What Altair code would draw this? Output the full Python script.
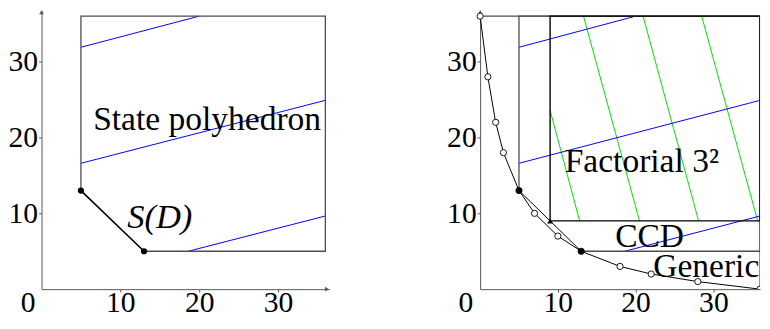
import altair as alt
import pandas as pd

# ---------------- data ----------------
x_tick_values = [0, 10, 20, 30]
y_tick_values = [10, 20, 30]

# left panel: state polyhedron
state_edge_x = [13, 36, 36, 5, 5]
state_edge_y = [5, 5, 36, 36, 13]
sd_x = [5, 13]
sd_y = [13, 5]

# blue level lines (both panels)
blue_x1 = [5, 5, 18.6]
blue_y1 = [31.9, 16.6, 5]
blue_x2 = [20, 36, 36]
blue_y2 = [36, 24.9, 9.65]

# right panel: generic staircase points
generic_x = [0, 1, 2, 3, 5, 7, 10, 13, 18, 22, 28, 36]
generic_y = [36, 28, 22, 18, 13, 10, 7, 5, 3, 2, 1, 0]
generic_filled = [False, False, False, False, True, False, False, True, False, False, False, False]
generic_edge_x = [0, 36, 36]
generic_edge_y = [36, 36, 0]

# CCD
ccd_x = [5, 9, 13]
ccd_y = [13, 9, 5]
ccd_tri_x = [9]
ccd_tri_y = [9]

# Factorial 3^2 box
fact_edge_x = [9, 9, 36, 36, 9]
fact_edge_y = [9, 36, 36, 9, 9]

# green level lines
green_x1 = [9, 13.3, 20.96, 28.5]
green_y1 = [23.6, 36, 36, 36]
green_x2 = [12.8, 20.5, 28.1, 35.7]
green_y2 = [9, 9, 9, 9]

# labels
left_texts = ["State polyhedron"]
left_text_x = [21.0]
left_text_y = [21.05]
sd_label = ["S(D)"]
sd_label_x = [15.0]
sd_label_y = [8.1]
right_texts = ["Factorial 3²", "CCD"]
right_text_x = [20.8, 21.8]
right_text_y = [15.5, 5.6]
generic_label = ["Generic"]
generic_label_x = [35.9]
generic_label_y = [1.55]

# ---------------- styling ----------------
FONT = "Liberation Serif, Times New Roman, DejaVu Serif, serif"
LBL = 30
TXT = 34
AXC = "#555555"
YMAX = 36.78
PH = 283  # plot height


def poly_df(xs, ys):
    return pd.DataFrame({"x": xs, "y": ys, "i": list(range(len(xs)))})


def seg_df(x1, y1, x2, y2):
    return pd.DataFrame({"x": x1, "y": y1, "x2": x2, "y2": y2})


def make_panel(xmax, x0_offset):
    xs = alt.Scale(domain=[0, xmax], nice=False, zero=False)
    ys = alt.Scale(domain=[0, YMAX], nice=False, zero=False)
    xaxis = alt.Axis(
        values=x_tick_values, title=None, grid=False,
        labelFont=FONT, labelFontSize=LBL, labelColor="black",
        labelPadding=-4, labelFlush=False, labelOverlap=False,
        domainColor=AXC, domainWidth=1, tickColor=AXC, tickSize=3,
        labelOffset={"condition": {"test": "datum.value === 0", "value": x0_offset}, "value": 0},
        tickOpacity={"condition": {"test": "datum.value === 0", "value": 0}, "value": 1},
    )
    yaxis = alt.Axis(
        values=y_tick_values, title=None, grid=False,
        labelFont=FONT, labelFontSize=LBL, labelColor="black",
        labelPadding=1, labelFlush=False, labelOverlap=False,
        domainColor=AXC, domainWidth=1, tickColor=AXC, tickSize=3,
    )
    X = lambda: alt.X("x:Q", scale=xs, axis=xaxis)
    Y = lambda: alt.Y("y:Q", scale=ys, axis=yaxis)
    return X, Y


def line_layer(df, X, Y, color, width, clip=False):
    return alt.Chart(df).mark_line(color=color, strokeWidth=width, clip=clip).encode(
        x=X(), y=Y(), order=alt.Order("i:Q"))


def seg_layer(df, X, Y, color, width, clip=False):
    return alt.Chart(df).mark_rule(color=color, strokeWidth=width, clip=clip).encode(
        x=X(), y=Y(), x2="x2:Q", y2="y2:Q")


# ---------- left panel ----------
XL, YL = make_panel(36.5, -14)

arrow_left = pd.DataFrame({"x": [36.2, 0], "y": [0, 36.5], "s": ["triangle-right", "triangle-up"]})

left = alt.layer(
    seg_layer(seg_df(blue_x1, blue_y1, blue_x2, blue_y2), XL, YL, "#0000ff", 1),
    line_layer(poly_df(state_edge_x, state_edge_y), XL, YL, "#4d4d4d", 1.3),
    line_layer(poly_df(sd_x, sd_y), XL, YL, "black", 1.6),
    alt.Chart(poly_df(sd_x, sd_y)).mark_point(filled=True, color="black", size=40, opacity=1).encode(x=XL(), y=YL()),
    alt.Chart(arrow_left).mark_point(filled=True, color=AXC, size=22, opacity=1).encode(
        x=XL(), y=YL(), shape=alt.Shape("s:N", scale=None)),
    alt.Chart(pd.DataFrame({"x": left_text_x, "y": left_text_y, "t": left_texts})).mark_text(
        font=FONT, fontSize=TXT, baseline="alphabetic", align="center", color="black").encode(
        x=XL(), y=YL(), text="t:N"),
    alt.Chart(pd.DataFrame({"x": sd_label_x, "y": sd_label_y, "t": sd_label})).mark_text(
        font=FONT, fontSize=TXT + 1, fontStyle="italic", baseline="alphabetic", align="center", color="black").encode(
        x=XL(), y=YL(), text="t:N"),
).properties(width=292, height=PH)

# ---------- right panel ----------
XR, YR = make_panel(36, -15)

gen = pd.DataFrame({"x": generic_x, "y": generic_y, "i": list(range(len(generic_x))), "f": generic_filled})
arrow_right = pd.DataFrame({"x": [0], "y": [36.5], "s": ["triangle-up"]})

right = alt.layer(
    seg_layer(seg_df(green_x1, green_y1, green_x2, green_y2), XR, YR, "#00e000", 1),
    seg_layer(seg_df(blue_x1, blue_y1, blue_x2, blue_y2), XR, YR, "#0000ff", 1),
    line_layer(poly_df(generic_edge_x, generic_edge_y), XR, YR, "#4d4d4d", 1.3, clip=True),
    line_layer(poly_df(state_edge_x, state_edge_y), XR, YR, "#4d4d4d", 1.3, clip=True),
    line_layer(poly_df(fact_edge_x, fact_edge_y), XR, YR, "black", 1.4, clip=True),
    line_layer(gen, XR, YR, "black", 1),
    line_layer(poly_df(ccd_x, ccd_y), XR, YR, "black", 1),
    alt.Chart(arrow_right).mark_point(filled=True, color=AXC, size=22, opacity=1).encode(
        x=XR(), y=YR(), shape=alt.Shape("s:N", scale=None)),
    alt.Chart(gen).transform_filter("datum.x < 36").mark_point(
        filled=True, size=40, strokeWidth=0.9, stroke="black", opacity=1).encode(
        x=XR(), y=YR(),
        fill=alt.condition("datum.f", alt.value("black"), alt.value("white"))),
    alt.Chart(gen).transform_filter("datum.x >= 36").mark_point(
        filled=True, size=40, strokeWidth=0.9, stroke="black", opacity=1, clip=True).encode(
        x=XR(), y=YR(),
        fill=alt.condition("datum.f", alt.value("black"), alt.value("white"))),
    alt.Chart(pd.DataFrame({"x": ccd_tri_x, "y": ccd_tri_y})).mark_point(
        filled=True, shape="triangle-up", size=35, color="black", opacity=1).encode(x=XR(), y=YR()),
    alt.Chart(pd.DataFrame({"x": right_text_x, "y": right_text_y, "t": right_texts})).mark_text(
        font=FONT, fontSize=TXT, baseline="alphabetic", align="center", color="black").encode(
        x=XR(), y=YR(), text="t:N"),
    alt.Chart(pd.DataFrame({"x": generic_label_x, "y": generic_label_y, "t": generic_label})).mark_text(
        font=FONT, fontSize=TXT, baseline="alphabetic", align="right", color="black").encode(
        x=XR(), y=YR(), text="t:N"),
).properties(width=284, height=PH)

chart = alt.hconcat(left, right, spacing=119).properties(
    padding=0, background="white").configure_view(stroke=None)

chart.save("out.html", embed_options={"renderer": "svg", "actions": False})
